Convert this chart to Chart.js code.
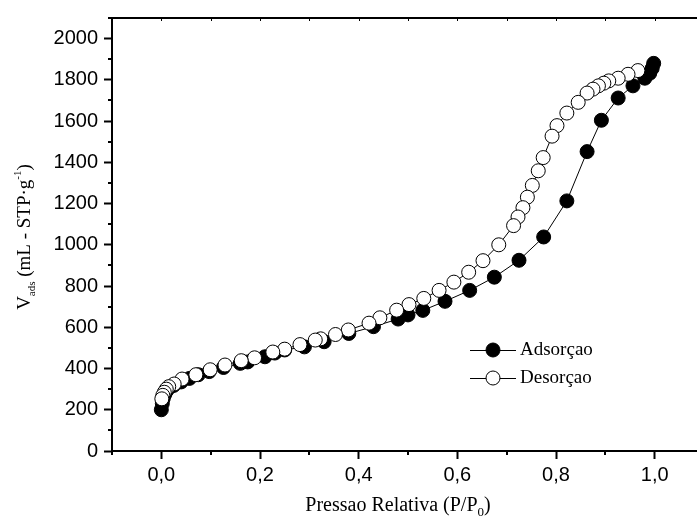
<!DOCTYPE html>
<html>
<head>
<meta charset="utf-8">
<script src="https://cdn.jsdelivr.net/npm/chart.js@4.4.1/dist/chart.umd.min.js"></script>
<style>
  html, body { margin: 0; padding: 0; background: #fff; overflow: hidden; }
  #wrap { width: 697px; height: 520px; overflow: hidden; }
</style>
</head>
<body>
<div id="wrap"><canvas id="chart-iso" width="720" height="520"></canvas></div>
<script>
// adsorption branch (filled circles)
var ads_p = [0.000, 0.002, 0.004, 0.007, 0.010, 0.015, 0.025, 0.040, 0.057, 0.075, 0.097, 0.126, 0.160, 0.175,
  0.210, 0.230, 0.250, 0.290, 0.330, 0.380, 0.430, 0.480, 0.500, 0.530, 0.575, 0.625, 0.675, 0.725, 0.775,
  0.822, 0.863, 0.892, 0.926, 0.956, 0.980, 0.990, 0.995, 0.998];
var ads_v = [200, 230, 255, 275, 290, 305, 318, 335, 352, 370, 385, 405, 425, 432,
  457, 475, 490, 505, 530, 570, 603, 640, 660, 682, 726, 779, 843, 925, 1038,
  1213, 1452, 1604, 1712, 1771, 1808, 1832, 1856, 1880];

// desorption branch (open circles)
var des_p = [0.966, 0.946, 0.926, 0.907, 0.897, 0.886, 0.875, 0.863, 0.845, 0.822, 0.802, 0.792, 0.774, 0.764,
  0.752, 0.742, 0.733, 0.723, 0.714, 0.684, 0.652, 0.623, 0.593, 0.563, 0.532, 0.502, 0.477, 0.443, 0.421,
  0.379, 0.353, 0.323, 0.312, 0.281, 0.250, 0.226, 0.189, 0.162, 0.129, 0.099, 0.070, 0.042, 0.026, 0.015,
  0.010, 0.006, 0.003, 0.001];
var des_v = [1845, 1827, 1808, 1795, 1784, 1771, 1755, 1736, 1691, 1639, 1578, 1527, 1423, 1359,
  1288, 1231, 1180, 1135, 1093, 1000, 923, 867, 819, 779, 740, 710, 683, 646, 620,
  587, 565, 544, 538, 516, 494, 480, 452, 438, 417, 394, 370, 349, 325, 312,
  300, 285, 270, 253];

var x_ticks = [0, 0.2, 0.4, 0.6, 0.8, 1.0];
var y_ticks = [0, 200, 400, 600, 800, 1000, 1200, 1400, 1600, 1800, 2000];
var series_names = ["Adsorçao", "Desorçao"];

function pairs(xs, ys){
  return xs.map(function(x, i){ return {x: x, y: ys[i]}; });
}

var sans = "'Liberation Sans', Arial, sans-serif";
var serif = "'Liberation Serif', 'Times New Roman', serif";

// minor ticks, top frame, axis titles and legend
var decor = {
  id: 'decor',
  afterDraw: function(chart){
    var ctx = chart.ctx;
    var a = chart.chartArea;
    var xs = chart.scales.x, ys = chart.scales.y;
    ctx.save();
    ctx.strokeStyle = '#000';
    ctx.lineWidth = 2;
    // top frame
    ctx.beginPath();
    ctx.moveTo(a.left - 1, a.top);
    ctx.lineTo(a.right, a.top);
    ctx.stroke();
    ctx.lineWidth = 1;
    for (var v = -0.1; v <= 1.1001; v += 0.1) {
      var px = Math.round(xs.getPixelForValue(v)) + 0.5;
      ctx.beginPath();
      ctx.moveTo(px, a.top);
      ctx.lineTo(px, a.top + 3);
      ctx.stroke();
    }
    // minor ticks
    ctx.lineWidth = 2;
    for (var m = 100; m <= 2100; m += 200) {
      var py = Math.round(ys.getPixelForValue(m));
      ctx.beginPath();
      ctx.moveTo(a.left, py);
      ctx.lineTo(a.left - 4, py);
      ctx.stroke();
    }
    for (var k = -0.1; k <= 1.1001; k += 0.2) {
      var qx = Math.round(xs.getPixelForValue(k));
      ctx.beginPath();
      ctx.moveTo(qx, a.bottom);
      ctx.lineTo(qx, a.bottom + 4);
      ctx.stroke();
    }

    ctx.fillStyle = '#000';
    ctx.textBaseline = 'alphabetic';
    // x title
    var t1 = 'Pressao Relativa (P/P';
    ctx.font = '20px ' + serif;
    var w1 = ctx.measureText(t1).width;
    ctx.font = '13px ' + serif;
    var w2 = ctx.measureText('0').width;
    ctx.font = '20px ' + serif;
    var w3 = ctx.measureText(')').width;
    var cx = 398, by = 511;
    var sx = cx - (w1 + w2 + w3) / 2;
    ctx.textAlign = 'left';
    ctx.fillText(t1, sx, by);
    ctx.font = '13px ' + serif;
    ctx.fillText('0', sx + w1, by + 5);
    ctx.font = '20px ' + serif;
    ctx.fillText(')', sx + w1 + w2, by);

    // y title
    ctx.save();
    ctx.translate(30, 237);
    ctx.rotate(-Math.PI / 2);
    var p1 = 'V', p2 = 'ads', p3 = ' (mL - STP\u00b7g', p4 = '-1', p5 = ')';
    ctx.font = '19px ' + serif;
    var a1 = ctx.measureText(p1).width, a3 = ctx.measureText(p3).width, a5 = ctx.measureText(p5).width;
    ctx.font = '11px ' + serif;
    var a2 = ctx.measureText(p2).width, a4 = ctx.measureText(p4).width;
    var x0 = -(a1 + a2 + a3 + a4 + a5) / 2;
    ctx.font = '19px ' + serif;
    ctx.fillText(p1, x0, 0);
    ctx.font = '11px ' + serif;
    ctx.fillText(p2, x0 + a1, 5);
    ctx.font = '19px ' + serif;
    ctx.fillText(p3, x0 + a1 + a2, 0);
    ctx.font = '11px ' + serif;
    ctx.fillText(p4, x0 + a1 + a2 + a3, -9);
    ctx.font = '19px ' + serif;
    ctx.fillText(p5, x0 + a1 + a2 + a3 + a4, 0);
    ctx.restore();

    // legend
    var rows = [350, 378];
    chart.data.datasets.forEach(function(ds, i){
      var y = rows[i];
      ctx.lineWidth = 1;
      ctx.strokeStyle = '#000';
      ctx.beginPath();
      ctx.moveTo(470, y + 0.5);
      ctx.lineTo(516, y + 0.5);
      ctx.stroke();
      ctx.beginPath();
      ctx.arc(493, y, 7, 0, Math.PI * 2);
      ctx.fillStyle = ds.pointBackgroundColor;
      ctx.fill();
      ctx.stroke();
      ctx.fillStyle = '#000';
      ctx.font = '19px ' + serif;
      ctx.textBaseline = 'middle';
      ctx.textAlign = 'left';
      ctx.fillText(ds.label, 520, y);
    });
    ctx.restore();
  }
};

var ctx = document.getElementById('chart-iso').getContext('2d');
new Chart(ctx, {
  type: 'scatter',
  data: {
    datasets: [
      {
        label: series_names[0],
        data: pairs(ads_p, ads_v),
        showLine: true,
        borderColor: '#000',
        borderWidth: 1,
        pointRadius: 7,
        pointBorderWidth: 1,
        pointBorderColor: '#000',
        pointBackgroundColor: '#000',
        order: 2
      },
      {
        label: series_names[1],
        data: pairs(des_p, des_v),
        showLine: true,
        borderColor: '#000',
        borderWidth: 1,
        pointRadius: 7,
        pointBorderWidth: 1,
        pointBorderColor: '#000',
        pointBackgroundColor: '#fff',
        order: 1
      }
    ]
  },
  options: {
    responsive: false,
    animation: false,
    layout: { padding: { left: 0, top: 13, right: 16, bottom: 0 } },
    plugins: {
      legend: { display: false },
      tooltip: { enabled: false }
    },
    scales: {
      x: {
        type: 'linear',
        min: -0.1,
        max: 1.1,
        afterFit: function(s){ s.height = 69; },
        afterBuildTicks: function(s){
          s.ticks = x_ticks.map(function(v){ return {value: v}; });
        },
        border: { color: '#000', width: 2 },
        grid: {
          drawOnChartArea: false,
          tickLength: 8,
          tickWidth: 2,
          tickColor: '#000'
        },
        ticks: {
          padding: 4,
          color: '#000',
          maxRotation: 0,
          font: { size: 20, family: sans },
          callback: function(v){ return v.toFixed(1).replace('.', ','); }
        }
      },
      y: {
        min: 0,
        max: 2100,
        afterFit: function(s){ s.width = 112; },
        afterBuildTicks: function(s){
          s.ticks = y_ticks.map(function(v){ return {value: v}; });
        },
        border: { color: '#000', width: 2 },
        grid: {
          drawOnChartArea: false,
          tickLength: 8,
          tickWidth: 2,
          tickColor: '#000'
        },
        ticks: {
          padding: 6,
          color: '#000',
          font: { size: 20, family: sans },
          callback: function(v){ return String(v); }
        }
      }
    }
  },
  plugins: [decor]
});
</script>
</body>
</html>
